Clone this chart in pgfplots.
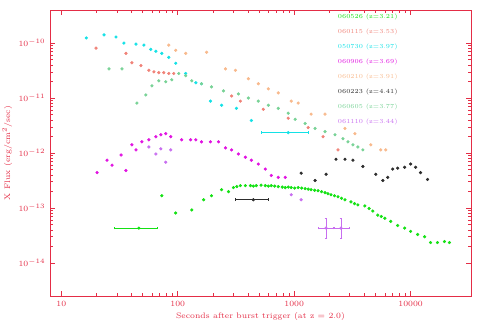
\documentclass[border=0pt]{standalone}
\usepackage{pgfplots}
\pgfplotsset{compat=1.18}

\definecolor{axred}{RGB}{228,45,70}
\definecolor{cgreen}{RGB}{20,225,20}
\definecolor{csalmon}{RGB}{240,130,120}
\definecolor{ccyan}{RGB}{20,225,230}
\definecolor{cmagenta}{RGB}{225,20,225}
\definecolor{cpeach}{RGB}{248,185,140}
\definecolor{cblack}{RGB}{45,45,45}
\definecolor{clgreen}{RGB}{120,210,150}
\definecolor{cviolet}{RGB}{200,110,240}

\begin{document}
\begin{tikzpicture}
\useasboundingbox (-37.5pt,-27pt) rectangle (323.25pt,222pt);
\begin{axis}[
  scale only axis,
  width=315.75pt, height=214.5pt,
  xmode=log, ymode=log,
  xmin=8, xmax=33000,
  ymin=2.5e-15, ymax=4e-10,
  axis line style={axred, line width=0.6pt},
  every tick/.style={axred, line width=0.4pt},
  major tick length=4pt, minor tick length=2pt,
  xtick={10,100,1000,10000},
  xticklabels={10,100,1000,10000},
  ytick={1e-14,1e-13,1e-12,1e-11,1e-10},
  tick label style={text=axred, font=\fontsize{6}{7}\selectfont},
  xlabel={Seconds after burst trigger (at z = 2.0)},
  ylabel={X Flux (erg/cm$^2$/sec)},
  label style={text=axred, font=\fontsize{6}{7}\selectfont},
  xlabel style={yshift=2pt},
  ylabel style={yshift=-2pt},
  only marks,
  mark size=1pt,
  error bars/error bar style={line width=0.45pt},
  legend image code/.code={},
  legend cell align=left,
  legend style={draw=none, fill=none, at={(0.677,0.995)}, anchor=north west,
    font=\fontsize{4.6}{5}\selectfont, inner sep=0pt, row sep=2.2pt},
]

% GRB 060526
\addplot[cgreen, mark=*] coordinates {
 (73,1.67e-13) (96,8.1e-14) (132,9.2e-14) (167,1.41e-13) (195,1.67e-13)
 (238,2.15e-13) (273,1.98e-13) (301,2.35e-13) (322,2.45e-13) (345,2.55e-13)
 (381,2.55e-13) (421,2.55e-13) (446,2.5e-13) (473,2.55e-13) (520,2.6e-13)
 (565,2.55e-13) (600,2.5e-13) (636,2.55e-13) (680,2.5e-13) (730,2.45e-13)
 (790,2.4e-13) (838,2.35e-13) (890,2.4e-13) (943,2.35e-13) (1010,2.3e-13)
 (1082,2.35e-13) (1160,2.3e-13) (1242,2.25e-13) (1320,2.2e-13) (1397,2.15e-13)
 (1500,2.1e-13) (1603,2.06e-13) (1720,1.98e-13) (1841,1.9e-13) (1950,1.82e-13)
 (2072,1.74e-13) (2220,1.67e-13) (2378,1.6e-13) (2550,1.5e-13) (2730,1.41e-13)
 (3072,1.29e-13) (3300,1.2e-13) (3524,1.14e-13) (4045,1.09e-13) (4400,9.8e-14)
 (4733,8.8e-14) (5222,7.4e-14) (5600,7e-14) (6000,6.5e-14) (6742,5.7e-14)
 (7737,4.8e-14) (8886,4.3e-14) (10000,3.75e-14) (11480,3.3e-14) (13180,3.0e-14)
 (14820,2.35e-14) (17000,2.35e-14) (19530,2.45e-14) (21540,2.35e-14)
};
\addlegendentry{\textcolor{cgreen}{060526 (z=3.21)}}

% GRB 060115
\addplot[csalmon, mark=*] coordinates {
 (19.9,8.1e-11) (35.9,6.5e-11) (40.4,4.4e-11) (48.3,3.9e-11)
 (56.5,3.2e-11) (62.4,3.0e-11) (68.8,2.9e-11) (75.9,2.9e-11) (83.8,2.8e-11)
 (92.4,2.8e-11) (290,1.09e-11) (345,8.8e-12) (543,6.25e-12) (889,4.3e-12)
 (1318,2.9e-12) (1770,1.98e-12) (2378,1.14e-12)
};
\addlegendentry{\textcolor{csalmon}{060115 (z=3.53)}}

% GRB 050730
\addplot[ccyan, mark=*] coordinates {
 (16.4,1.24e-10) (23.3,1.41e-10) (29.5,1.29e-10) (34.5,1.0e-10) (43.8,9.6e-11)
 (51.2,9.2e-11) (58.7,7.7e-11) (64.9,7.1e-11) (73.0,6.5e-11) (83.8,5.5e-11)
 (96.1,4.3e-11) (117,2.8e-11) (143,1.9e-11) (160,1.82e-11) (191,8.8e-12)
 (238,7.4e-12) (319,6.5e-12) (429,3.9e-12)
};
\addlegendentry{\textcolor{ccyan}{050730 (z=3.97)}}

% GRB 060906
\addplot[cmagenta, mark=*] coordinates {
 (20.3,4.4e-13) (24.7,7.4e-13) (27.3,6.0e-13) (32.6,9.2e-13) (35.9,4.8e-13)
 (40.4,1.41e-12) (43.8,1.14e-12) (49.2,1.6e-12) (56.5,1.74e-12) (64.9,1.98e-12)
 (71.6,2.15e-12) (78.9,2.25e-12) (87.1,1.98e-12) (108,1.74e-12) (129,1.74e-12)
 (143,1.74e-12) (160,1.6e-12) (191,1.6e-12) (224,1.6e-12) (257,1.24e-12)
 (290,1.14e-12) (332,9.6e-13) (381,8.4e-13) (429,7.4e-13) (492,6.3e-13)
 (565,5.1e-13) (636,3.9e-13) (730,3.6e-13) (838,3.6e-13)
};
\addlegendentry{\textcolor{cmagenta}{060906 (z=3.69)}}

% GRB 060210
\addplot[cpeach, mark=*] coordinates {
 (83.8,9.2e-11) (96.1,7.4e-11) (117,6.5e-11) (177,6.8e-11) (257,3.4e-11)
 (313,3.2e-11) (404,2.25e-11) (492,1.82e-11) (600,1.47e-11) (730,1.24e-11)
 (943,8.8e-12) (1082,8.1e-12) (1397,5.1e-12) (1841,5.1e-12) (2730,2.8e-12)
 (3322,2.25e-12) (4551,1.41e-12) (5540,1.14e-12) (6113,1.14e-12)
};
\addlegendentry{\textcolor{cpeach}{060210 (z=3.91)}}

% GRB 060223A
\addplot[cblack, mark=*] coordinates {
 (1148,4.3e-13) (1511,3.16e-13) (1879,4.1e-13) (2286,7.7e-13) (2730,7.7e-13)
 (3195,7.4e-13) (3890,5.7e-13) (5021,4.1e-13) (5768,3.16e-13) (6356,3.6e-13)
 (7012,5.1e-13) (7737,5.3e-13) (8886,5.5e-13) (10000,6.3e-13) (11040,5.5e-13)
 (12170,4.4e-13) (13970,3.3e-13)
};
\addlegendentry{\textcolor{cblack}{060223 (z=4.41)}}

% GRB 060605
\addplot[clgreen, mark=*] coordinates {
 (25.7,3.4e-11) (33.2,3.4e-11) (44.6,8.1e-12) (53.2,1.14e-11) (60.0,1.67e-11)
 (68.8,2.06e-11) (78.9,1.98e-11) (88.9,2.15e-11) (102,2.8e-11) (117,2.55e-11)
 (132,2.06e-11) (160,1.82e-11) (195,1.6e-11) (247,1.35e-11) (332,1.19e-11)
 (404,1.0e-11) (492,8.8e-12) (600,7.4e-12) (730,6.5e-12) (889,5.3e-12)
 (1020,4.1e-12) (1242,3.44e-12) (1511,2.8e-12) (1841,2.45e-12) (2241,2.15e-12)
 (2624,1.82e-12) (2897,1.6e-12) (3195,1.41e-12) (3524,1.29e-12) (3890,1.14e-12)
};
\addlegendentry{\textcolor{clgreen}{060605 (z=3.77)}}

% GRB 061110B
\addplot[cviolet, mark=*] coordinates {
 (56.5,1.29e-12) (71.6,1.19e-12) (64.9,9.6e-13) (87.1,1.14e-12) (78.9,6.8e-13)
 (943,1.74e-13) (1148,1.41e-13)
};
\addlegendentry{\textcolor{cviolet}{061110 (z=3.44)}}

% single points with their error bars
\addplot[cgreen, mark=*, forget plot, error bars/.cd, x dir=both, x explicit]
 coordinates { (46.4,4.3e-14) += (19.8,0) -= (18.0,0) };
\addplot[ccyan, mark=*, forget plot, error bars/.cd, x dir=both, x explicit]
 coordinates { (889,2.35e-12) += (429,0) -= (367,0) };
\addplot[cblack, mark=*, forget plot, error bars/.cd, x dir=both, x explicit]
 coordinates { (446,1.41e-13) += (154,0) -= (133,0) };
\addplot[cviolet, mark=*, forget plot, error bars/.cd, x dir=both, y dir=both, x explicit, y explicit]
 coordinates {
  (1879,4.3e-14) += (320,2.3e-14) -= (270,1.5e-14)
  (2524,4.3e-14) += (430,2.3e-14) -= (370,1.5e-14)
 };
\end{axis}
\end{tikzpicture}
\end{document}
